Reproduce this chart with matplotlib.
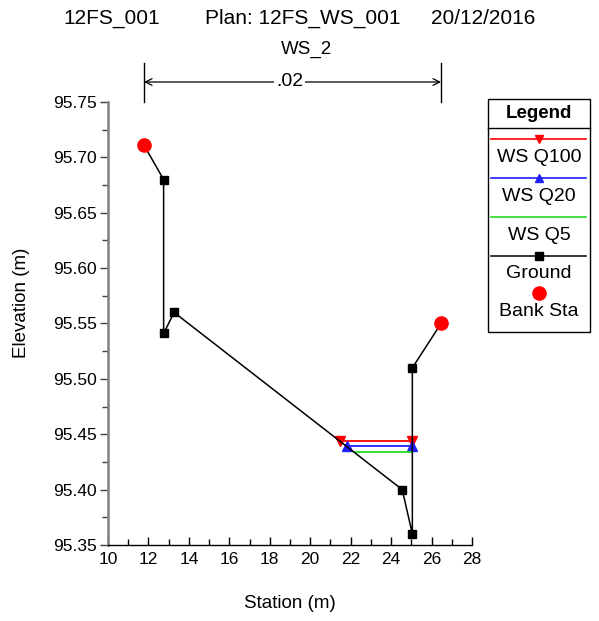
import matplotlib
matplotlib.use("Agg")
import matplotlib.pyplot as plt
from matplotlib.lines import Line2D
from matplotlib.patches import Rectangle
from matplotlib.ticker import MultipleLocator, FormatStrFormatter

plt.rcParams['font.family'] = ['Liberation Sans', 'DejaVu Sans']

# Cross-section ground profile (station, elevation)
ground_sta = [11.78, 12.75, 12.75, 13.27, 24.55, 25.05, 25.05, 26.47]
ground_elev = [95.711, 95.680, 95.541, 95.560, 95.400, 95.360, 95.510, 95.550]

# Bank stations
bank_sta = [11.78, 26.47]
bank_elev = [95.711, 95.550]

# Water surfaces for each profile
ws_names = ['WS Q100', 'WS Q20', 'WS Q5']
ws_elev = [95.444, 95.439, 95.434]
ws_left = [21.45, 21.80, 22.15]
ws_right = [25.05, 25.05, 25.05]
ws_colors = ['#ff0000', '#2020ff', '#22dd22']
ws_markers = ['v', '^', None]

n_value = '.02'
title_parts = ['12FS_001', 'Plan: 12FS_WS_001', '20/12/2016']
subtitle = 'WS_2'

W, H = 599, 621
fig = plt.figure(figsize=(W / 100, H / 100), dpi=100)

def fx(px):
    return px / W

def fy(py):
    return 1 - py / H

ax = fig.add_axes([fx(108), fy(545), fx(472) - fx(108), fy(102) - fy(545)])

# Water surface lines
for name, z, xl, xr, c, m in zip(ws_names, ws_elev, ws_left, ws_right, ws_colors, ws_markers):
    ax.plot([xl, xr], [z, z], color=c, lw=1.3, marker=m, markersize=7,
            zorder=3, clip_on=False)

# Ground
ax.plot(ground_sta, ground_elev, color='black', lw=1.1, marker='s',
        markersize=6, zorder=4, clip_on=False)

# Bank stations
ax.plot(bank_sta, bank_elev, linestyle='none', marker='o', color='#ff0000',
        markersize=9.5, zorder=5, clip_on=False)

ax.set_xlim(10, 28)
ax.set_ylim(95.35, 95.75)
ax.xaxis.set_major_locator(MultipleLocator(2))
ax.xaxis.set_minor_locator(MultipleLocator(1))
ax.yaxis.set_major_locator(MultipleLocator(0.05))
ax.yaxis.set_minor_locator(MultipleLocator(0.025))
ax.yaxis.set_major_formatter(FormatStrFormatter('%.2f'))

for s in ['top', 'right']:
    ax.spines[s].set_visible(False)
ax.spines['left'].set_color('#808080')
ax.spines['left'].set_linewidth(1.8)
ax.spines['bottom'].set_color('black')
ax.spines['bottom'].set_linewidth(1.0)

ax.tick_params(axis='x', which='major', direction='in', length=6, width=1,
               labelsize=12.5, pad=5)
ax.tick_params(axis='x', which='minor', direction='in', length=4, width=1)
ax.tick_params(axis='y', which='major', direction='out', length=6, width=1,
               labelsize=12.5, pad=2, color='#404040')
ax.tick_params(axis='y', which='minor', direction='out', length=4, width=1,
               color='#404040')

fig.text(fx(290), fy(603), 'Station (m)', fontsize=13.5, ha='center', va='center')
fig.text(fx(22), fy(303), 'Elevation (m)', fontsize=13.5, ha='center',
         va='center', rotation=90)

# Titles
fig.text(fx(63), fy(18), title_parts[0], fontsize=15, ha='left', va='center')
fig.text(fx(205), fy(18), title_parts[1], fontsize=15, ha='left', va='center')
fig.text(fx(535), fy(18), title_parts[2], fontsize=15, ha='right', va='center')
fig.text(fx(307), fy(49), subtitle, fontsize=13.5, ha='center', va='center')

# Manning's n span between bank stations
trans = ax.get_xaxis_transform()
y_top = 1 + (102 - 63) / 443
y_arrow = 1 + (102 - 82) / 443
for bs in bank_sta:
    ax.plot([bs, bs], [1.0, y_top], color='black', lw=1.0, transform=trans,
            clip_on=False)
ax.annotate('', xy=(bank_sta[0], y_arrow), xytext=(bank_sta[1], y_arrow),
            xycoords=trans, textcoords=trans,
            arrowprops=dict(arrowstyle='<->', lw=0.9, color='black',
                            shrinkA=0, shrinkB=0, mutation_scale=12))
ax.text((bank_sta[0] + bank_sta[1]) / 2 - 0.15, y_arrow, n_value, transform=trans,
        fontsize=14, ha='center', va='center',
        bbox=dict(facecolor='white', edgecolor='none', pad=1.5))

# Legend panel
lx0, lx1, ly0, ly1 = 488, 590, 99, 332
fig.add_artist(Rectangle((fx(lx0), fy(ly1)), fx(lx1) - fx(lx0), fy(ly0) - fy(ly1),
                         transform=fig.transFigure, facecolor='white',
                         edgecolor='black', lw=1.0))
fig.add_artist(Line2D([fx(lx0), fx(lx1)], [fy(128), fy(128)],
                      transform=fig.transFigure, color='black', lw=1.0))
fig.text(fx(539), fy(113), 'Legend', fontsize=13.5, fontweight='bold',
         ha='center', va='center')

entries = [
    (ws_names[0], ws_colors[0], 'v', 1.2, 6),
    (ws_names[1], ws_colors[1], '^', 1.2, 6),
    (ws_names[2], ws_colors[2], None, 1.2, 6),
    ('Ground', 'black', 's', 1.1, 6),
    ('Bank Sta', '#ff0000', 'o', 0, 9.5),
]
line_y = [139, 178, 217, 256, 293]
text_y = [157, 196, 235, 274, 312]
mid = (lx0 + lx1) / 2
for (label, c, m, lw, ms), ly, ty in zip(entries, line_y, text_y):
    if lw > 0:
        fig.add_artist(Line2D([fx(491), fx(586)], [fy(ly), fy(ly)],
                              transform=fig.transFigure, color=c, lw=lw))
    if m is not None:
        fig.add_artist(Line2D([fx(mid)], [fy(ly)], transform=fig.transFigure,
                              color=c, marker=m, markersize=ms, linestyle='none'))
    fig.text(fx(mid), fy(ty), label, fontsize=14, ha='center', va='center')

fig.savefig('out.png', dpi=100, facecolor='white')
